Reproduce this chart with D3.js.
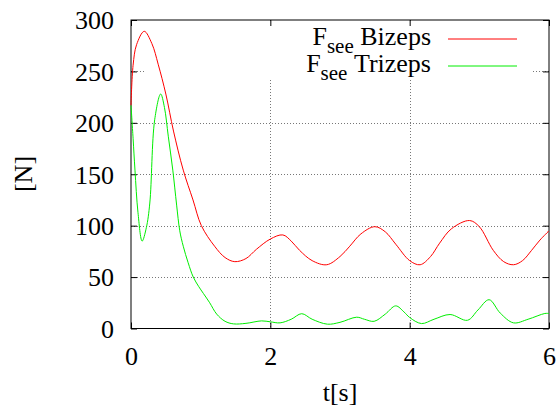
<!DOCTYPE html>
<html>
<head>
<meta charset="utf-8">
<script src="https://cdn.jsdelivr.net/npm/d3@7"></script>
<style>
  html, body { margin: 0; padding: 0; background: #fff; }
  svg { display: block; }
</style>
</head>
<body>
<svg id="chart" width="560" height="412"></svg>
<script>
// Time axis samples [s] and muscle forces [N]
const bizepsT = [0, 0.03, 0.08, 0.19, 0.3, 0.39, 0.5, 0.61, 0.75, 0.89, 1.01, 1.2, 1.35, 1.49, 1.65, 1.8, 2.0, 2.18, 2.3, 2.42, 2.6, 2.81, 3.0, 3.14, 3.3, 3.5, 3.65, 3.8, 4.0, 4.15, 4.3, 4.43, 4.6, 4.86, 5.0, 5.2, 5.35, 5.49, 5.62, 5.75, 5.87, 6.0];
const bizepsF = [217, 256, 276, 289, 277, 257, 228, 192, 154, 125, 100, 80, 69, 65, 68, 77, 87, 91, 85, 76, 66, 62, 70, 80, 92, 99, 94, 82, 66, 62, 70, 83, 97, 105, 99, 76, 65, 62, 66, 76, 86, 95];

const trizepsT = [0, 0.03, 0.057, 0.1, 0.16, 0.22, 0.27, 0.34, 0.426, 0.48, 0.535, 0.6, 0.655, 0.7, 0.75, 0.82, 0.894, 0.97, 1.04, 1.13, 1.23, 1.35, 1.47, 1.65, 1.875, 2.0, 2.14, 2.3, 2.45, 2.6, 2.82, 3.0, 3.24, 3.35, 3.49, 3.65, 3.8, 3.92, 4.0, 4.17, 4.35, 4.58, 4.83, 4.98, 5.14, 5.3, 5.49, 5.7, 5.94, 6.0];
const trizepsF = [217, 185, 154, 113, 85, 98, 122, 203, 228, 215, 187, 154, 120, 95, 80, 64, 50, 41, 34, 25, 14, 7, 4.5, 5, 7.4, 6.5, 5.5, 9, 14.4, 9, 4.2, 6, 11, 9, 7, 14, 22, 16, 10.7, 4.8, 9, 13.6, 8, 18, 28, 15, 5.5, 9, 14.6, 14.6];

const xTicks = [0, 2, 4, 6];
const yTicks = [0, 50, 100, 150, 200, 250, 300];

const seriesNames = ["Bizeps", "Trizeps"];
const seriesColors = ["#ff0000", "#00ee00"];

const serif = "'Liberation Serif', 'Times New Roman', Times, 'DejaVu Serif', serif";

const svg = d3.select("#chart");
const plotLeft = 131, plotRight = 549, plotTop = 20, plotBottom = 328.5;

const x = d3.scaleLinear().domain([0, 6]).range([plotLeft, plotRight]);
const y = d3.scaleLinear().domain([0, 300]).range([plotBottom, plotTop]);

// Dotted grid
const grid = svg.append("g").attr("stroke", "#777").attr("stroke-width", 1)
  .attr("stroke-dasharray", "1,2").attr("shape-rendering", "crispEdges");
yTicks.filter(v => v > 0 && v < 300).forEach(v => {
  grid.append("line").attr("x1", plotLeft).attr("x2", plotRight)
    .attr("y1", Math.round(y(v)) + 0.5).attr("y2", Math.round(y(v)) + 0.5);
});
xTicks.filter(v => v > 0 && v < 6).forEach(v => {
  grid.append("line").attr("y1", plotTop).attr("y2", plotBottom)
    .attr("x1", Math.round(x(v)) + 0.5).attr("x2", Math.round(x(v)) + 0.5);
});

// Opaque key background
svg.append("rect").attr("x", 144).attr("y", plotTop + 1).attr("width", 388).attr("height", 59)
  .attr("fill", "#fff");

// Axes with inward ticks on all four sides
const tickLen = 6;
const bottomAxis = d3.axisBottom(x).tickValues(xTicks).tickSize(-tickLen).tickFormat(d3.format("d"));
const topAxis = d3.axisTop(x).tickValues(xTicks).tickSize(-tickLen).tickFormat("");
const leftAxis = d3.axisLeft(y).tickValues(yTicks).tickSize(-tickLen).tickFormat(d3.format("d"));
const rightAxis = d3.axisRight(y).tickValues(yTicks).tickSize(-tickLen).tickFormat("");

function styleAxis(g) {
  g.attr("font-family", null).attr("font-size", null);
  g.select(".domain").remove();
  g.selectAll(".tick line").attr("stroke", "#000");
  g.selectAll("text").style("font-size", "26px").style("font-family", serif).attr("fill", "#000");
}
svg.append("g").attr("transform", `translate(0,${plotBottom})`).call(bottomAxis).call(styleAxis)
  .selectAll("text").attr("y", 36).attr("dy", null);
svg.append("g").attr("transform", `translate(0,${plotTop})`).call(topAxis).call(styleAxis);
svg.append("g").attr("transform", `translate(${plotLeft},0)`).call(leftAxis).call(styleAxis)
  .selectAll("text").attr("x", -17).attr("dy", "0.34em");
svg.append("g").attr("transform", `translate(${plotRight},0)`).call(rightAxis).call(styleAxis);

// Plot border
svg.append("rect").attr("x", plotLeft).attr("y", plotTop)
  .attr("width", plotRight - plotLeft).attr("height", plotBottom - plotTop)
  .attr("fill", "none").attr("stroke", "#000").attr("stroke-width", 1);

// Force curves
const line = d3.line().x(d => x(d[0])).y(d => y(d[1])).curve(d3.curveCatmullRom.alpha(0.5));
const series = [
  d3.zip(bizepsT, bizepsF),
  d3.zip(trizepsT, trizepsF)
];
series.forEach((pts, i) => {
  svg.append("path").datum(pts).attr("d", line)
    .attr("fill", "none").attr("stroke", seriesColors[i]).attr("stroke-width", 1);
});

// Key
const keyBaselines = [45, 71.5];
const keySampleY = [39, 66];
seriesNames.forEach((name, i) => {
  const t = svg.append("text").attr("x", 431).attr("y", keyBaselines[i])
    .attr("text-anchor", "end").style("font-family", serif).style("font-size", "26px");
  t.append("tspan").text("F");
  t.append("tspan").attr("dy", 8).style("font-size", "21px").text("see");
  t.append("tspan").attr("dy", -8).text("\u00a0" + name);
  svg.append("line").attr("x1", 448).attr("x2", 517)
    .attr("y1", keySampleY[i]).attr("y2", keySampleY[i])
    .attr("stroke", seriesColors[i]).attr("stroke-width", 1);
});

// Axis titles
svg.append("text").attr("x", (plotLeft + plotRight) / 2).attr("y", 401).attr("text-anchor", "middle")
  .style("font-family", serif).style("font-size", "26px").text("t[s]");
svg.append("text").attr("transform", "translate(32,174) rotate(-90)").attr("text-anchor", "middle")
  .style("font-family", serif).style("font-size", "26px").text("[N]");
</script>
</body>
</html>
